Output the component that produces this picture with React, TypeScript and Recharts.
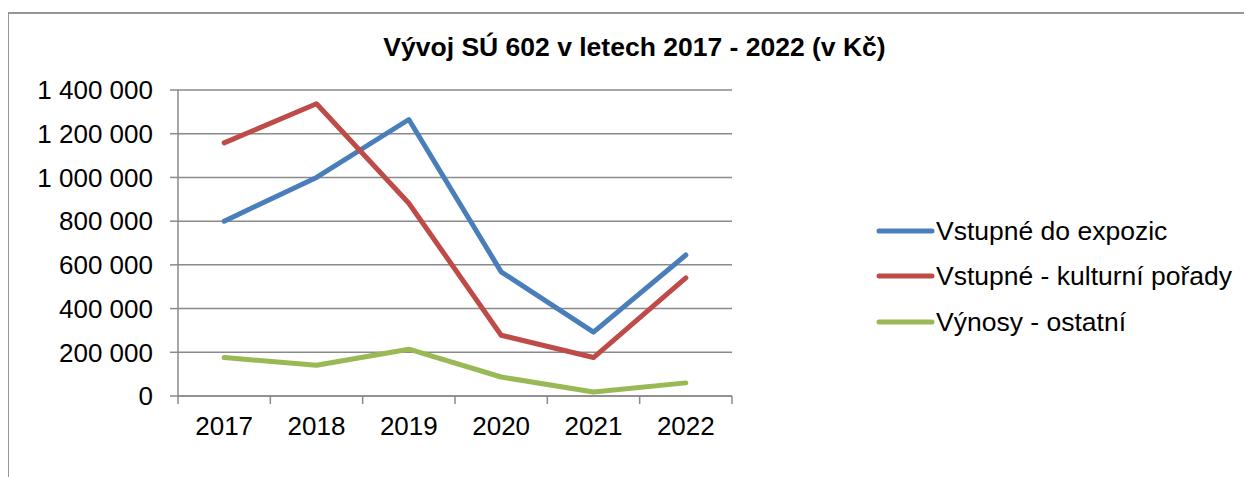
import React from "react";
import { LineChart, Line, XAxis, YAxis, CartesianGrid, Legend } from "recharts";

const years = ["2017", "2018", "2019", "2020", "2021", "2022"];
const expozice = [800000, 1000000, 1265000, 568000, 292000, 645000];
const kulturni = [1158000, 1337000, 882000, 278000, 176000, 540000];
const ostatni = [176000, 141000, 214000, 87000, 18000, 60000];
const yTicks = [0, 200000, 400000, 600000, 800000, 1000000, 1200000, 1400000];

const series = [
  { key: "expozice", name: "Vstupné do expozic", color: "#4a7ebb", values: expozice },
  { key: "kulturni", name: "Vstupné - kulturní pořady", color: "#be4b48", values: kulturni },
  { key: "ostatni", name: "Výnosy - ostatní", color: "#98b954", values: ostatni },
];

const data = years.map((year, i) => {
  const row: Record<string, string | number> = { year };
  series.forEach((s) => (row[s.key] = s.values[i]));
  return row;
});

const W = 1252;
const H = 477;
const FONT = "'Liberation Sans', Arial, sans-serif";
const AXIS = "#8a8a8a";
const Y_W = 178;
const RIGHT = 520;
const TOP = 90;
const X_H = 81;
const PLOT_W = W - Y_W - RIGHT;
const HALF = PLOT_W / years.length / 2;
const TICK = 8;
const X_MARGIN = 13;

const fmt = (v: number) => String(v).replace(/\B(?=(\d{3})+(?!\d))/g, " ");

const XTick = (props: any) => {
  const { x, y, payload, index } = props;
  const axisY = y - TICK - X_MARGIN;
  return (
    <g>
      <line x1={x - HALF} x2={x - HALF} y1={axisY} y2={axisY + TICK} stroke={AXIS} strokeWidth={1.5} />
      {index === years.length - 1 && (
        <line x1={x + HALF} x2={x + HALF} y1={axisY} y2={axisY + TICK} stroke={AXIS} strokeWidth={1.5} />
      )}
      <text x={x} y={y} dy="0.71em" textAnchor="middle" fill="#000" fontSize={26} fontFamily={FONT}>
        {payload.value}
      </text>
    </g>
  );
};

const LegendBox = () => (
  <div style={{ fontFamily: FONT, fontSize: 26.5, color: "#000", lineHeight: 1 }}>
    {series.map((s) => (
      <div key={s.key} style={{ display: "flex", alignItems: "center", height: 45.6 }}>
        <svg width={60} height={10}>
          <line x1={3} x2={56} y1={5} y2={5} stroke={s.color} strokeWidth={5} strokeLinecap="round" />
        </svg>
        <span>{s.name}</span>
      </div>
    ))}
  </div>
);

export default function App() {
  return (
    <div style={{ position: "relative", width: W, height: H, margin: "-8px 0 0 -8px", overflow: "hidden", background: "#fff" }}>
      <div
        style={{
          position: "absolute",
          left: 7,
          top: 12,
          width: 1400,
          height: 600,
          border: "2px solid #969696",
        }}
      />
      <div
        style={{
          position: "absolute",
          left: 0,
          width: 1269,
          top: 32,
          textAlign: "center",
          fontFamily: FONT,
          fontWeight: "bold",
          fontSize: 26.5,
          lineHeight: "30px",
          color: "#000",
        }}
      >
        Vývoj SÚ 602 v letech 2017 - 2022 (v Kč)
      </div>
      <div style={{ position: "absolute", left: 0, top: 0 }}>
        <LineChart width={W} height={H} data={data} margin={{ top: TOP, right: RIGHT, bottom: 0, left: 0 }}>
          <CartesianGrid vertical={false} stroke={AXIS} strokeWidth={1.5} />
          <XAxis
            dataKey="year"
            height={X_H}
            padding={{ left: HALF, right: HALF }}
            axisLine={{ stroke: AXIS, strokeWidth: 1.5 }}
            tickLine={false}
            tickSize={TICK}
            tickMargin={X_MARGIN}
            tick={<XTick />}
            interval={0}
          />
          <YAxis
            width={Y_W}
            domain={[0, 1400000]}
            ticks={yTicks}
            tickFormatter={fmt}
            axisLine={{ stroke: AXIS, strokeWidth: 1.5 }}
            tickLine={{ stroke: AXIS, strokeWidth: 1.5 }}
            tickSize={TICK}
            tickMargin={17}
            tick={{ fill: "#000", fontSize: 26, fontFamily: FONT }}
            interval={0}
          />
          <Legend
            layout="vertical"
            align="center"
            verticalAlign="middle"
            wrapperStyle={{ left: 876, top: 208, width: 376 }}
            content={<LegendBox />}
          />
          {series.map((s) => (
            <Line
              key={s.key}
              type="linear"
              dataKey={s.key}
              name={s.name}
              stroke={s.color}
              strokeWidth={5}
              strokeLinecap="round"
              strokeLinejoin="round"
              dot={false}
              activeDot={false}
              isAnimationActive={false}
            />
          ))}
        </LineChart>
      </div>
    </div>
  );
}
